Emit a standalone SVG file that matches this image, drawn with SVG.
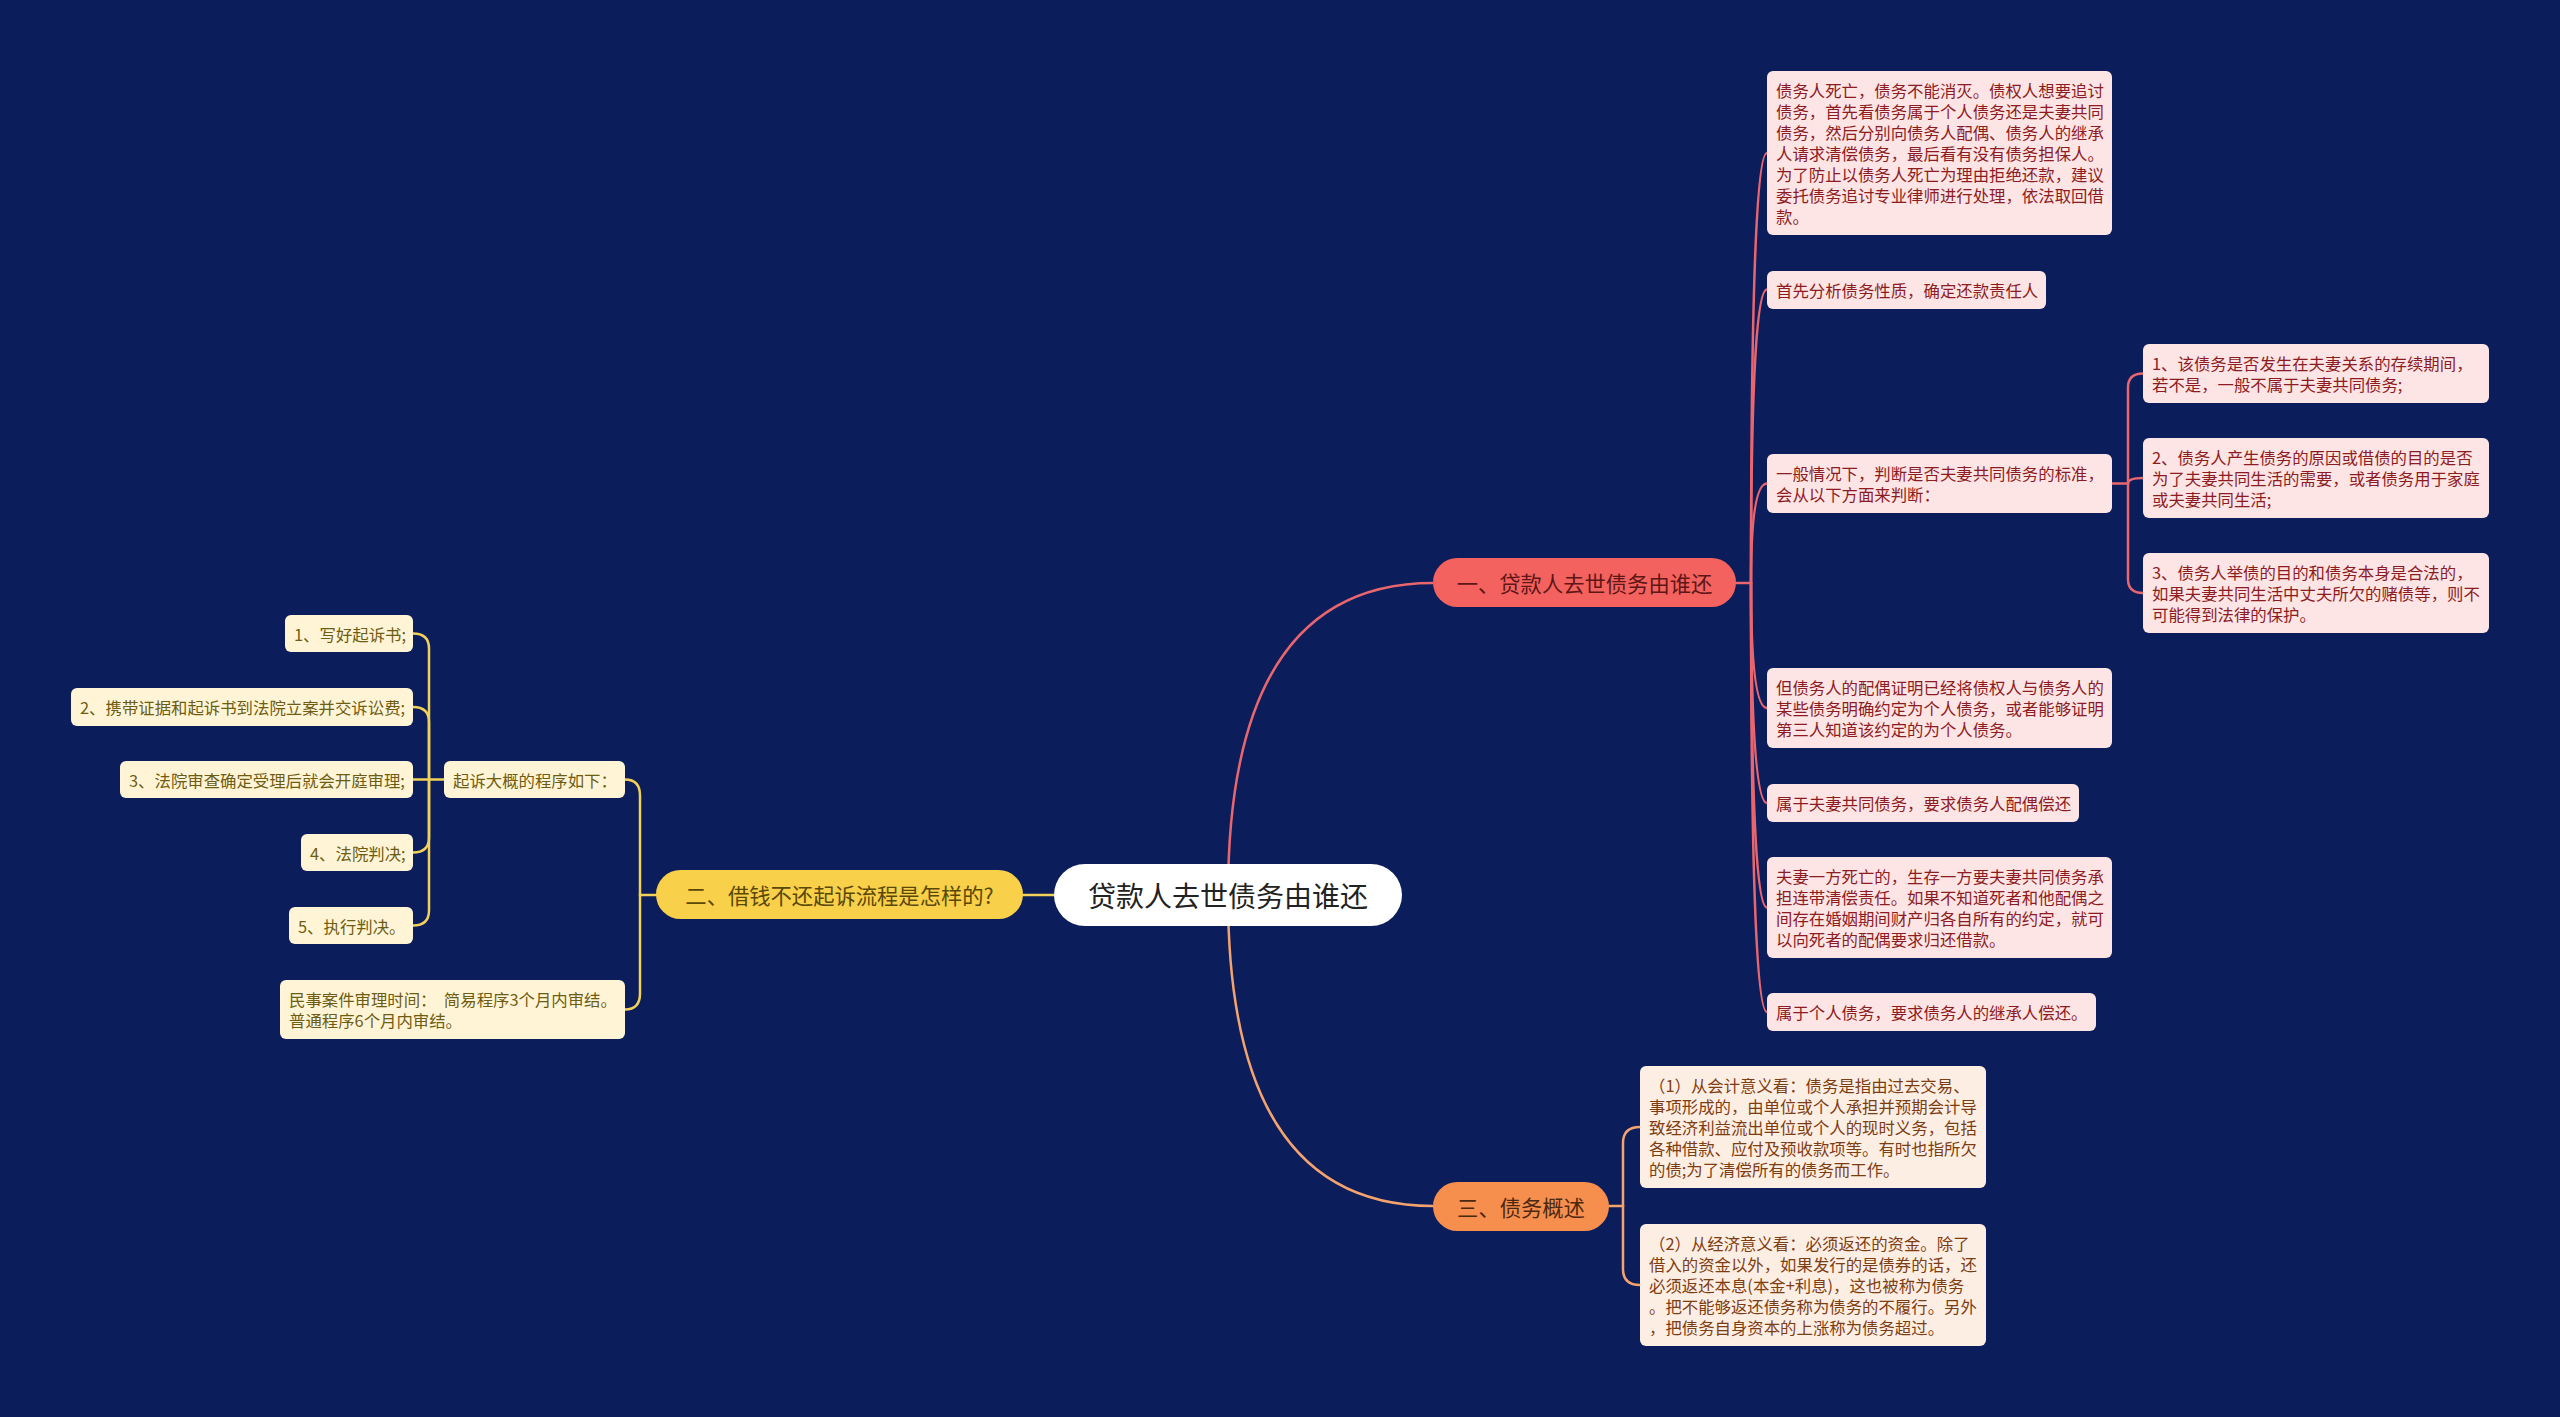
<svg xmlns="http://www.w3.org/2000/svg" width="2560" height="1417" viewBox="0 0 2560 1417">
<style>
text{font-family:"Noto Sans CJK SC","Noto Sans",sans-serif;}
.c{fill:none;stroke-width:2.5;stroke-linecap:round;}
.cr{stroke:#e9666f;}
.co{stroke:#f4a26e;}
.cy{stroke:#f1d15a;}
.lp rect{fill:#fde4e5;}
.lp text{fill:#8c1c22;font-size:16.4px;}
.lo rect{fill:#fdeee3;}
.lo text{fill:#7d3d12;font-size:16.4px;}
.ly rect{fill:#fff5d6;}
.ly text{fill:#6e5c12;font-size:16.4px;}
.b text{font-size:21.3px;}
</style>
<rect x="0" y="0" width="2560" height="1417" fill="#0b1d5a"/>

<g id="connectors">
  <!-- center to branches -->
  <path class="c cr" d="M1228 895 Q1228 583 1433 583"/>
  <path class="c co" d="M1228 895 Q1228 1206 1433 1206"/>
  <path class="c cy" d="M1054 895 L1023 895"/>
  <!-- branch 1 children -->
  <path class="c cr" d="M1736 583 L1751 583"/>
  <path class="c cr" d="M1751 583 Q1751 153 1767 153"/>
  <path class="c cr" d="M1751 583 Q1751 289.5 1767 289.5"/>
  <path class="c cr" d="M1751 583 Q1751 483.5 1767 483.5"/>
  <path class="c cr" d="M1751 583 Q1751 708 1767 708"/>
  <path class="c cr" d="M1751 583 Q1751 803 1767 803"/>
  <path class="c cr" d="M1751 583 Q1751 907.5 1767 907.5"/>
  <path class="c cr" d="M1751 583 Q1751 1012 1767 1012"/>
  <!-- N3 children -->
  <path class="c cr" d="M2112 483.5 L2128 483.5"/>
  <path class="c cr" d="M2128 483.5 L2128 387.5 Q2128 373.5 2143 373.5"/>
  <path class="c cr" d="M2128 483.5 Q2128 478 2143 478"/>
  <path class="c cr" d="M2128 483.5 L2128 579 Q2128 593 2143 593"/>
  <!-- branch 3 children -->
  <path class="c co" d="M1609 1206 L1623 1206"/>
  <path class="c co" d="M1623 1206 L1623 1143 Q1623 1127 1640 1127"/>
  <path class="c co" d="M1623 1206 L1623 1269 Q1623 1285 1640 1285"/>
  <!-- branch 2 children -->
  <path class="c cy" d="M656 895 L640 895"/>
  <path class="c cy" d="M640 895 L640 795.5 Q640 779.5 625 779.5"/>
  <path class="c cy" d="M640 895 L640 993.5 Q640 1009.5 625 1009.5"/>
  <path class="c cy" d="M444 779.5 L429 779.5"/>
  <path class="c cy" d="M429 779.5 L429 648.5 Q429 633.5 413 633.5"/>
  <path class="c cy" d="M429 779.5 L429 722 Q429 707 413 707"/>
  <path class="c cy" d="M429 779.5 L413 779.5"/>
  <path class="c cy" d="M429 779.5 L429 837.5 Q429 852.5 413 852.5"/>
  <path class="c cy" d="M429 779.5 L429 910.5 Q429 925.5 413 925.5"/>
</g>

<g id="center">
  <rect x="1054" y="864" width="348" height="62" rx="31" fill="#ffffff"/>
  <text x="1228" y="895" font-size="28" fill="#222222" text-anchor="middle" dominant-baseline="central">贷款人去世债务由谁还</text>
</g>

<g id="branch1" class="b">
  <rect x="1433" y="558" width="303" height="49" rx="24.5" fill="#f3625f"/>
  <text x="1584.5" y="582.5" fill="#5e1616" text-anchor="middle" dominant-baseline="central">一、贷款人去世债务由谁还</text>
</g>
<g id="branch2" class="b">
  <rect x="656" y="870" width="367" height="49" rx="24.5" fill="#f8d049"/>
  <text x="839.5" y="894.5" fill="#5a4806" text-anchor="middle" dominant-baseline="central">二、借钱不还起诉流程是怎样的?</text>
</g>
<g id="branch3" class="b">
  <rect x="1433" y="1182" width="176" height="49" rx="24.5" fill="#f68f4e"/>
  <text x="1521" y="1206.5" fill="#4d2810" text-anchor="middle" dominant-baseline="central">三、债务概述</text>
</g>

<!-- branch 1 leaves -->
<g id="n1" class="lp">
  <rect x="1767" y="71" width="345" height="164" rx="6"/>
  <text x="1776" dominant-baseline="central">
    <tspan x="1776" y="90">债务人死亡，债务不能消灭。债权人想要追讨</tspan>
    <tspan x="1776" y="111">债务，首先看债务属于个人债务还是夫妻共同</tspan>
    <tspan x="1776" y="132">债务，然后分别向债务人配偶、债务人的继承</tspan>
    <tspan x="1776" y="153">人请求清偿债务，最后看有没有债务担保人。</tspan>
    <tspan x="1776" y="174">为了防止以债务人死亡为理由拒绝还款，建议</tspan>
    <tspan x="1776" y="195">委托债务追讨专业律师进行处理，依法取回借</tspan>
    <tspan x="1776" y="216">款。</tspan>
  </text>
</g>
<g id="n2" class="lp">
  <rect x="1767" y="271" width="279" height="38" rx="6"/>
  <text x="1776" y="290" dominant-baseline="central">首先分析债务性质，确定还款责任人</text>
</g>
<g id="n3" class="lp">
  <rect x="1767" y="454" width="345" height="59" rx="6"/>
  <text dominant-baseline="central">
    <tspan x="1776" y="473">一般情况下，判断是否夫妻共同债务的标准，</tspan>
    <tspan x="1776" y="494">会从以下方面来判断：</tspan>
  </text>
</g>
<g id="n3a" class="lp">
  <rect x="2143" y="344" width="346" height="59" rx="6"/>
  <text dominant-baseline="central">
    <tspan x="2152" y="363">1、该债务是否发生在夫妻关系的存续期间，</tspan>
    <tspan x="2152" y="384">若不是，一般不属于夫妻共同债务;</tspan>
  </text>
</g>
<g id="n3b" class="lp">
  <rect x="2143" y="438" width="346" height="80" rx="6"/>
  <text dominant-baseline="central">
    <tspan x="2152" y="457">2、债务人产生债务的原因或借债的目的是否</tspan>
    <tspan x="2152" y="478">为了夫妻共同生活的需要，或者债务用于家庭</tspan>
    <tspan x="2152" y="499">或夫妻共同生活;</tspan>
  </text>
</g>
<g id="n3c" class="lp">
  <rect x="2143" y="553" width="346" height="80" rx="6"/>
  <text dominant-baseline="central">
    <tspan x="2152" y="572">3、债务人举债的目的和债务本身是合法的，</tspan>
    <tspan x="2152" y="593">如果夫妻共同生活中丈夫所欠的赌债等，则不</tspan>
    <tspan x="2152" y="614">可能得到法律的保护。</tspan>
  </text>
</g>
<g id="n4" class="lp">
  <rect x="1767" y="668" width="345" height="80" rx="6"/>
  <text dominant-baseline="central">
    <tspan x="1776" y="687">但债务人的配偶证明已经将债权人与债务人的</tspan>
    <tspan x="1776" y="708">某些债务明确约定为个人债务，或者能够证明</tspan>
    <tspan x="1776" y="729">第三人知道该约定的为个人债务。</tspan>
  </text>
</g>
<g id="n5" class="lp">
  <rect x="1767" y="784" width="312" height="38" rx="6"/>
  <text x="1776" y="803" dominant-baseline="central">属于夫妻共同债务，要求债务人配偶偿还</text>
</g>
<g id="n6" class="lp">
  <rect x="1767" y="857" width="345" height="101" rx="6"/>
  <text dominant-baseline="central">
    <tspan x="1776" y="876">夫妻一方死亡的，生存一方要夫妻共同债务承</tspan>
    <tspan x="1776" y="897">担连带清偿责任。如果不知道死者和他配偶之</tspan>
    <tspan x="1776" y="918">间存在婚姻期间财产归各自所有的约定，就可</tspan>
    <tspan x="1776" y="939">以向死者的配偶要求归还借款。</tspan>
  </text>
</g>
<g id="n7" class="lp">
  <rect x="1767" y="993" width="329" height="38" rx="6"/>
  <text x="1776" y="1012" dominant-baseline="central">属于个人债务，要求债务人的继承人偿还。</text>
</g>

<!-- branch 3 leaves -->
<g id="o1" class="lo">
  <rect x="1640" y="1066" width="346" height="122" rx="6"/>
  <text dominant-baseline="central">
    <tspan x="1649" y="1085">（1）从会计意义看：债务是指由过去交易、</tspan>
    <tspan x="1649" y="1106">事项形成的，由单位或个人承担并预期会计导</tspan>
    <tspan x="1649" y="1127">致经济利益流出单位或个人的现时义务，包括</tspan>
    <tspan x="1649" y="1148">各种借款、应付及预收款项等。有时也指所欠</tspan>
    <tspan x="1649" y="1169">的债;为了清偿所有的债务而工作。</tspan>
  </text>
</g>
<g id="o2" class="lo">
  <rect x="1640" y="1224" width="346" height="122" rx="6"/>
  <text dominant-baseline="central">
    <tspan x="1649" y="1243">（2）从经济意义看：必须返还的资金。除了</tspan>
    <tspan x="1649" y="1264">借入的资金以外，如果发行的是债券的话，还</tspan>
    <tspan x="1649" y="1285">必须返还本息(本金+利息)，这也被称为债务</tspan>
    <tspan x="1649" y="1306">。把不能够返还债务称为债务的不履行。另外</tspan>
    <tspan x="1649" y="1327">，把债务自身资本的上涨称为债务超过。</tspan>
  </text>
</g>

<!-- branch 2 leaves -->
<g id="y0" class="ly">
  <rect x="444" y="761" width="181" height="37" rx="6"/>
  <text x="453" y="779.5" dominant-baseline="central">起诉大概的程序如下：</text>
</g>
<g id="y1" class="ly">
  <rect x="285" y="615" width="128" height="37" rx="6"/>
  <text x="294" y="633.5" dominant-baseline="central">1、写好起诉书;</text>
</g>
<g id="y2" class="ly">
  <rect x="71" y="688" width="342" height="38" rx="6"/>
  <text x="80" y="707" dominant-baseline="central">2、携带证据和起诉书到法院立案并交诉讼费;</text>
</g>
<g id="y3" class="ly">
  <rect x="120" y="761" width="293" height="37" rx="6"/>
  <text x="129" y="779.5" dominant-baseline="central">3、法院审查确定受理后就会开庭审理;</text>
</g>
<g id="y4" class="ly">
  <rect x="301" y="834" width="112" height="37" rx="6"/>
  <text x="310" y="852.5" dominant-baseline="central">4、法院判决;</text>
</g>
<g id="y5" class="ly">
  <rect x="289" y="907" width="124" height="37" rx="6"/>
  <text x="298" y="925.5" dominant-baseline="central">5、执行判决。</text>
</g>
<g id="y6" class="ly">
  <rect x="280" y="980" width="345" height="59" rx="6"/>
  <text dominant-baseline="central" style="white-space:pre">
    <tspan x="289" y="999">民事案件审理时间：  简易程序3个月内审结。</tspan>
    <tspan x="289" y="1020">普通程序6个月内审结。</tspan>
  </text>
</g>
</svg>
